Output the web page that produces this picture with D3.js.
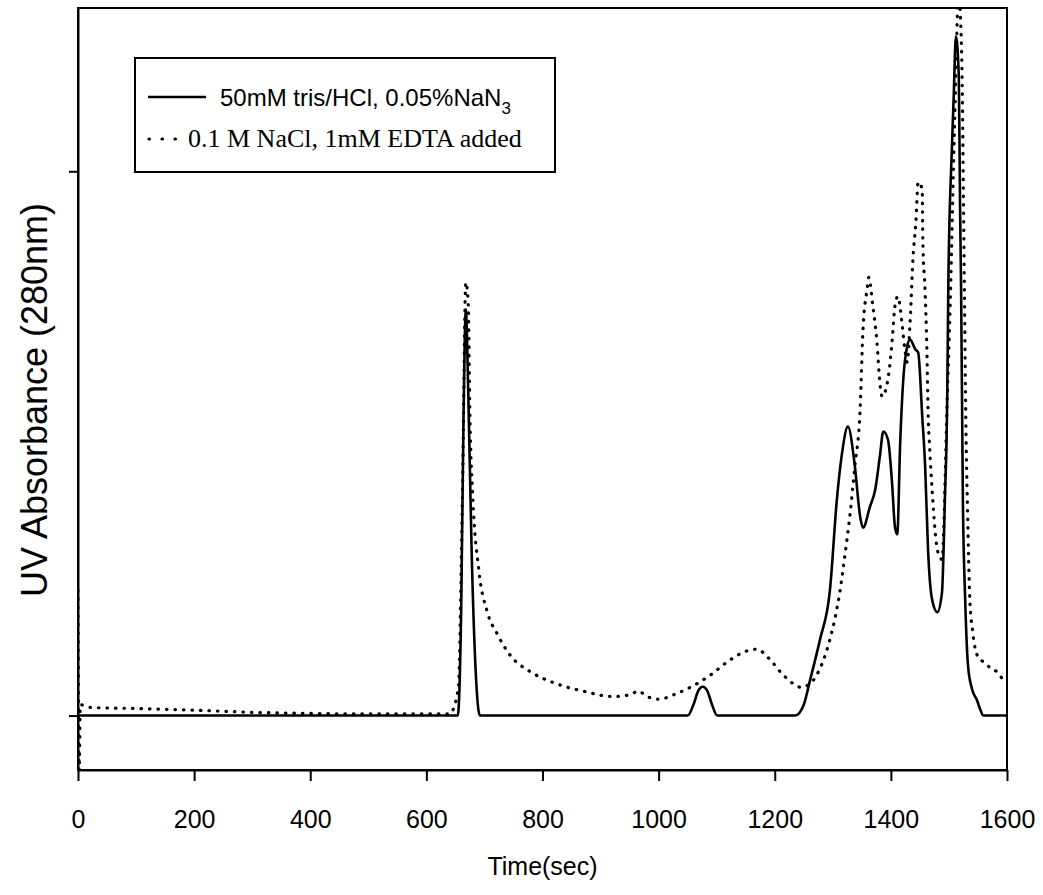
<!DOCTYPE html>
<html>
<head>
<meta charset="utf-8">
<script src="https://cdn.jsdelivr.net/npm/d3@7"></script>
<style>
  body { margin: 0; background: #fff; }
  .axis path, .axis line { stroke: #000; stroke-width: 2; }
  .axis text { font-family: "Liberation Sans", Arial, sans-serif; font-size: 25px; fill: #000; }
</style>
</head>
<body>
<svg id="chart" width="1043" height="895"></svg>
<script>
// time (sec) and relative absorbance
const trisTime = [0, 640, 654, 660, 664, 668, 672, 678, 685, 692, 1050, 1060, 1068, 1076, 1084, 1092, 1101,
    1235, 1250, 1261, 1278, 1295, 1307, 1316, 1326, 1338, 1347, 1352, 1364, 1373, 1381, 1387, 1395, 1402, 1407, 1411,
    1416, 1421, 1428, 1433, 1442, 1447, 1454, 1459, 1464, 1471, 1480, 1488, 1493, 1497, 1499, 1505, 1508, 1512,
    1517, 1519, 1521, 1524, 1528, 1533, 1540, 1548, 1554, 1559, 1600];
const trisValue = [0, 0, 0, 0.2, 0.55, 0.746, 0.6, 0.3, 0.08, 0, 0, 0.02, 0.045, 0.053, 0.045, 0.02, 0,
    0, 0.02, 0.066, 0.14, 0.23, 0.397, 0.483, 0.531, 0.458, 0.366, 0.345, 0.384, 0.415, 0.476, 0.522, 0.507, 0.428, 0.347, 0.333,
    0.5, 0.612, 0.678, 0.691, 0.673, 0.667, 0.55, 0.458, 0.305, 0.213, 0.19, 0.226, 0.397, 0.58, 0.796, 1.04, 1.13, 1.248,
    1.175, 0.95, 0.778, 0.397, 0.213, 0.09, 0.048, 0.029, 0.011, 0, 0];

const naclTime = [0, 2, 4, 20, 100, 200, 300, 400, 500, 640, 655, 662, 668, 672, 675, 680, 690, 705, 722, 745, 780, 820,
    870, 920, 950, 965, 980, 1000, 1030, 1060, 1090, 1120, 1150, 1169, 1190, 1210, 1230, 1245, 1260, 1275,
    1295, 1304, 1312, 1321, 1330, 1338, 1347, 1352, 1359, 1362, 1369, 1376, 1381, 1385, 1395, 1402, 1407, 1412,
    1419, 1424, 1428, 1433, 1438, 1443, 1447, 1454, 1455, 1459, 1462, 1464, 1467, 1471, 1480, 1488, 1497, 1502,
    1510, 1517, 1520, 1523, 1525, 1527, 1529, 1532, 1536, 1541, 1550, 1562, 1574, 1585, 1593, 1600];
const naclValue = [0.23, -0.1, 0.02, 0.015, 0.013, 0.01, 0.006, 0.004, 0.003, 0.003, 0.05, 0.4, 0.796, 0.76, 0.55, 0.4, 0.27, 0.19, 0.15, 0.11, 0.08, 0.06,
    0.045, 0.035, 0.038, 0.045, 0.035, 0.03, 0.04, 0.055, 0.075, 0.1, 0.118, 0.122, 0.105, 0.08, 0.06, 0.052, 0.058, 0.08,
    0.14, 0.18, 0.226, 0.296, 0.373, 0.458, 0.5625, 0.71, 0.783, 0.805, 0.752, 0.686, 0.612, 0.586, 0.618, 0.686, 0.752, 0.77,
    0.722, 0.673, 0.649, 0.722, 0.838, 0.906, 0.98, 0.967, 0.875, 0.778, 0.673, 0.5625, 0.489, 0.415, 0.305, 0.287, 0.58, 0.75,
    1.1, 1.33, 1.28, 1.15, 0.95, 0.75, 0.55, 0.38, 0.213, 0.153, 0.108, 0.097, 0.085, 0.079, 0.066, 0.06];

const xTicks = [0, 200, 400, 600, 800, 1000, 1200, 1400, 1600];
const yTicks = [0, 1];

const legendLabels = ["50mM tris/HCl, 0.05%NaN", "0.1 M NaCl, 1mM EDTA added"];

const svg = d3.select("#chart"),
    margin = {top: 8, right: 36, bottom: 125, left: 78},
    width = +svg.attr("width") - margin.left - margin.right,
    height = +svg.attr("height") - margin.top - margin.bottom;

const x = d3.scaleLinear().domain([0, 1600]).range([0, width]),
    y = d3.scaleLinear().domain([-0.1, 1.3]).range([height, 0]);

const g = svg.append("g")
    .attr("transform", "translate(" + margin.left + "," + margin.top + ")");

g.append("clipPath").attr("id", "clip")
    .append("rect").attr("x", 0).attr("y", 0).attr("width", width).attr("height", height);

// frame
g.append("rect")
    .attr("x", 0).attr("y", 0)
    .attr("width", width).attr("height", height)
    .attr("fill", "none").attr("stroke", "#000").attr("stroke-width", 2);

g.append("g")
    .attr("class", "axis axis--x")
    .attr("transform", "translate(0," + height + ")")
    .call(d3.axisBottom(x).tickValues(xTicks).tickSize(11).tickSizeOuter(0).tickPadding(29).tickFormat(d3.format("d")));

g.append("g")
    .attr("class", "axis axis--y")
    .call(d3.axisLeft(y).tickValues(yTicks).tickSize(9).tickSizeOuter(0).tickFormat(""));

const line = d3.line()
    .x((d) => x(d[0]))
    .y((d) => y(d[1]))
    .curve(d3.curveMonotoneX);

const tris = trisTime.map((t, i) => [t, trisValue[i]]),
    nacl = naclTime.map((t, i) => [t, naclValue[i]]);

g.append("path")
    .datum(nacl)
    .attr("clip-path", "url(#clip)")
    .attr("fill", "none")
    .attr("stroke", "#000")
    .attr("stroke-width", 3.2)
    .attr("stroke-linecap", "round")
    .attr("stroke-dasharray", "0.5, 8")
    .attr("d", line);

g.append("path")
    .datum(tris)
    .attr("clip-path", "url(#clip)")
    .attr("fill", "none")
    .attr("stroke", "#000")
    .attr("stroke-width", 2.6)
    .attr("stroke-linejoin", "round")
    .attr("d", line);

// axis titles
svg.append("text")
    .attr("x", margin.left + width / 2)
    .attr("y", 875)
    .attr("text-anchor", "middle")
    .style("font-family", "Liberation Sans, Arial, sans-serif")
    .style("font-size", "25px")
    .text("Time(sec)");

svg.append("text")
    .attr("transform", "translate(47,400) rotate(-90)")
    .attr("text-anchor", "middle")
    .style("font-family", "Liberation Sans, Arial, sans-serif")
    .style("font-size", "36px")
    .text("UV Absorbance (280nm)");

// legend
const lg = svg.append("g");
lg.append("rect")
    .attr("x", 135).attr("y", 58)
    .attr("width", 420).attr("height", 114)
    .attr("fill", "#fff").attr("stroke", "#000").attr("stroke-width", 2);

lg.append("line")
    .attr("x1", 148).attr("x2", 206).attr("y1", 97).attr("y2", 97)
    .attr("stroke", "#000").attr("stroke-width", 2.6);

const t1 = lg.append("text")
    .attr("x", 220).attr("y", 106)
    .style("font-family", "Liberation Sans, Arial, sans-serif")
    .style("font-size", "24px")
    .text(legendLabels[0]);
t1.append("tspan").attr("dy", 8).style("font-size", "17px").text("3");

lg.append("line")
    .attr("x1", 149).attr("x2", 176).attr("y1", 139).attr("y2", 139)
    .attr("stroke", "#000").attr("stroke-width", 3.2)
    .attr("stroke-linecap", "round")
    .attr("stroke-dasharray", "0.5, 12.5");

lg.append("text")
    .attr("x", 188).attr("y", 147)
    .style("font-family", "Liberation Serif, Times New Roman, serif")
    .style("font-size", "26px")
    .text(legendLabels[1]);
</script>
</body>
</html>
